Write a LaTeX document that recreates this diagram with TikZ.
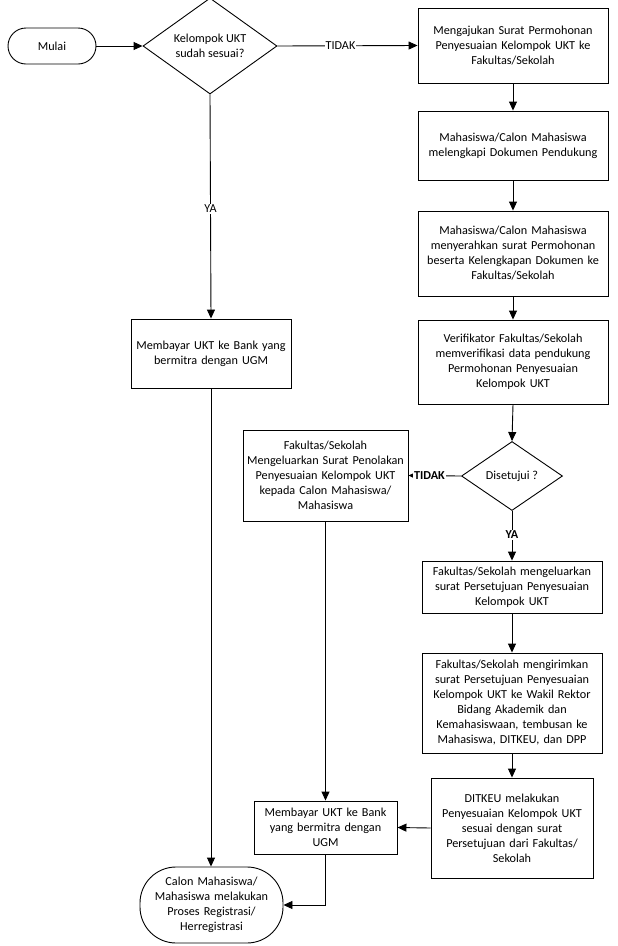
\documentclass[tikz,border=0pt]{standalone}
\usepackage{fontspec}
\setmainfont{Carlito}
\usetikzlibrary{shapes.geometric,arrows.meta}
\begin{document}
\begin{tikzpicture}[x=1pt,y=-1pt,
  every node/.style={font=\fontsize{12.2}{15}\selectfont, align=center},
  box/.style={draw, line width=0.9pt, inner sep=2pt, anchor=center},
  term/.style={draw, line width=0.9pt, inner sep=2pt, anchor=center},
  dec/.style={draw, diamond, line width=0.9pt, inner sep=0pt, anchor=center},
  conn/.style={line width=0.9pt, -{Triangle[length=9pt,width=8pt]}},
  lbl/.style={fill=white, inner sep=1pt}]
\useasboundingbox (0,0) rectangle (618,946);
\fill[white] (0,0) rectangle (618,946);

\node[term, rounded corners=18pt, minimum width=88pt, minimum height=36pt] (start) at (52,46) {Mulai};
\node[dec, minimum width=134pt, minimum height=80pt] (d1) at (210,46) {Kelompok UKT\\sudah sesuai?};

\node[box, minimum width=190pt, minimum height=75pt, text width=184pt] (b1) at (513,45.5) {Mengajukan Surat Permohonan\\Penyesuaian Kelompok UKT ke\\Fakultas/Sekolah};
\node[box, minimum width=190pt, minimum height=69pt, text width=184pt] (b2) at (513,145.5) {Mahasiswa/Calon Mahasiswa\\melengkapi Dokumen Pendukung};
\node[box, minimum width=190pt, minimum height=85pt, text width=184pt] (b3) at (513,253.5) {Mahasiswa/Calon Mahasiswa\\menyerahkan surat Permohonan\\beserta Kelengkapan Dokumen ke\\Fakultas/Sekolah};
\node[box, minimum width=190pt, minimum height=84pt, text width=184pt] (b4) at (513,362) {Verifikator Fakultas/Sekolah\\memverifikasi data pendukung\\Permohonan Penyesuaian\\Kelompok UKT};
\node[dec, minimum width=101pt, minimum height=69pt] (d2) at (512,476) {Disetujui ?};

\node[box, minimum width=160pt, minimum height=69pt, text width=155pt] (pay1) at (211,353.5) {Membayar UKT ke Bank yang\\bermitra dengan UGM};
\node[box, minimum width=165pt, minimum height=91pt, text width=160pt] (rej) at (325.5,475.5) {Fakultas/Sekolah\\Mengeluarkan Surat Penolakan\\Penyesuaian Kelompok UKT\\kepada Calon Mahasiswa/\\Mahasiswa};

\node[box, minimum width=180pt, minimum height=52pt, text width=175pt] (ok1) at (512,587) {Fakultas/Sekolah mengeluarkan\\surat Persetujuan Penyesuaian\\Kelompok UKT};
\node[box, minimum width=180pt, minimum height=100pt, text width=175pt] (send) at (512,703) {Fakultas/Sekolah mengirimkan\\surat Persetujuan Penyesuaian\\Kelompok UKT ke Wakil Rektor\\Bidang Akademik dan\\Kemahasiswaan, tembusan ke\\Mahasiswa, DITKEU, dan DPP};
\node[box, minimum width=162pt, minimum height=100pt, text width=157pt] (ditkeu) at (512,828) {DITKEU melakukan\\Penyesuaian Kelompok UKT\\sesuai dengan surat\\Persetujuan dari Fakultas/\\Sekolah};
\node[box, minimum width=143pt, minimum height=53pt, text width=138pt] (pay2) at (325.5,827.5) {Membayar UKT ke Bank\\yang bermitra dengan\\UGM};
\node[term, rounded corners=36pt, minimum width=143pt, minimum height=76pt, text width=134pt] (end) at (211.5,905) {Calon Mahasiswa/\\Mahasiswa melakukan\\Proses Registrasi/\\Herregistrasi};

\draw[conn] (start.east) -- (d1.west);
\draw[conn] (d1.east) -- node[lbl, pos=0.45] (t1) {TIDAK} (b1.west);
\draw[conn] (d1.south) -- node[lbl, pos=0.51] (y1) {YA} (pay1.north);
\draw[conn] (b1) -- (b2);
\draw[conn] (b2) -- (b3);
\draw[conn] (b3) -- (b4);
\draw[conn] (b4.south) -- (d2.north);
\draw[conn] (d2.west) -- node[lbl, pos=0.6, font=\fontsize{12.2}{15}\selectfont\bfseries] (t2) {TIDAK} (rej.east);
\draw[conn] (d2.south) -- node[lbl, pos=0.48, font=\fontsize{12.2}{15}\selectfont\bfseries] (y2) {YA} (ok1.north);
\draw[conn] (ok1) -- (send);
\draw[conn] (send.south) -- (send.south |- ditkeu.north);
\draw[conn] (ditkeu.west) -- (pay2.east);
\draw[conn] (rej.south) -- (pay2.north);
\draw[conn] (pay1.south) -- (pay1.south |- end.north);
\draw[conn] (pay2.south) |- (end.east);
\end{tikzpicture}
\end{document}
